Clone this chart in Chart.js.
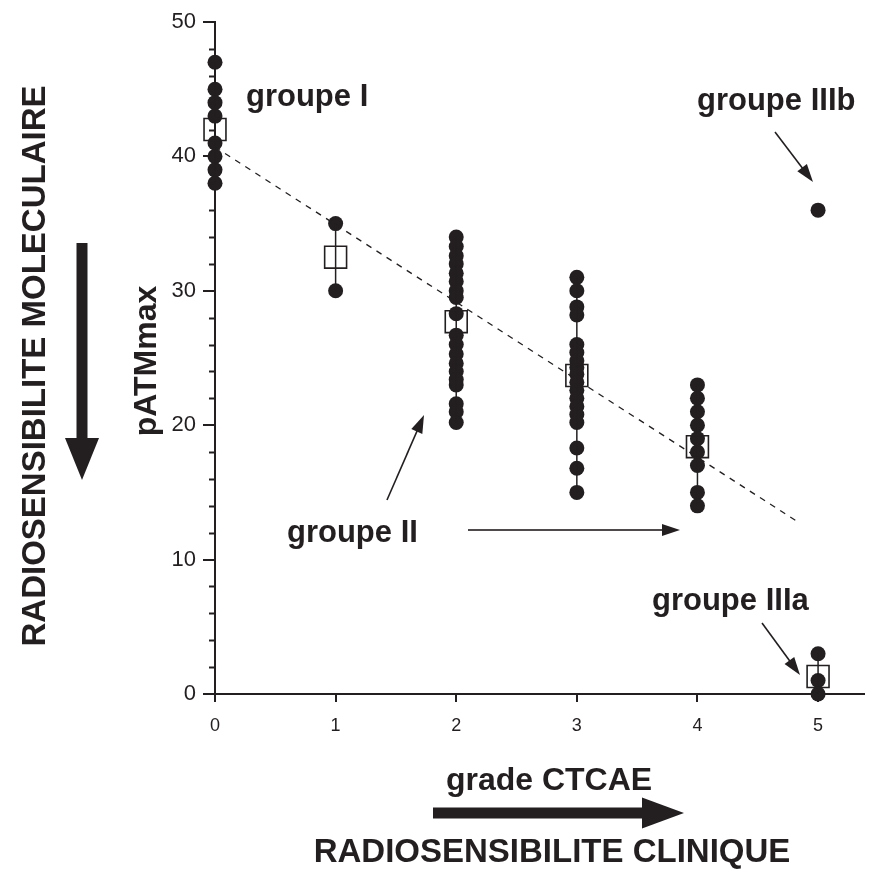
<!DOCTYPE html>
<html>
<head>
<meta charset="utf-8">
<script src="https://cdn.jsdelivr.net/npm/chart.js@4"></script>
<style>
  html, body { margin: 0; padding: 0; background: #fff; }
  #wrap { width: 881px; height: 876px; }
</style>
</head>
<body>
<div id="wrap"><canvas id="chart" width="881" height="876"></canvas></div>
<script>
// values (pATMmax per CTCAE grade)
const grade0 = [47, 45, 44, 43, 41, 40, 39, 38];
const grade1 = [35, 30];
const grade2 = [34, 33.3, 32.6, 32, 31.3, 30.7, 30, 29.5, 28.3, 26.7, 26, 25.3, 24.6, 24, 23.4, 23, 21.6, 21, 20.2];
const grade3 = [31, 30, 28.8, 28.2, 26, 25.4, 24.8, 24.3, 23.8, 23.2, 22.6, 22, 21.4, 20.8, 20.2, 18.3, 16.8, 15];
const grade4 = [23, 22, 21, 20, 19, 18, 17, 15, 14];
const grade5 = [3, 1, 0];
const outlier5 = [36];          // groupe IIIb
const grades = [0, 1, 2, 3, 4, 5];
const means = [42, 32.5, 27.7, 23.7, 18.4, 1.3];
const trendX = [0, 4.85];
const trendY = [40.7, 12.7];
const yTicks = [0, 10, 20, 30, 40, 50];

const groups = [grade0, grade1, grade2, grade3, grade4, grade5];
const ink = '#231f20';

let dots = [];
groups.forEach(function (vals, i) {
    vals.forEach(function (v) { dots.push({x: grades[i], y: v}); });
});
outlier5.forEach(function (v) { dots.push({x: 5, y: v}); });

let rangeSets = groups.map(function (vals, i) {
    return {
        type: 'line',
        data: [{x: grades[i], y: Math.min(...vals)}, {x: grades[i], y: Math.max(...vals)}],
        borderColor: ink, borderWidth: 1.5, pointRadius: 0, showLine: true, order: 3, clip: false
    };
});

// minor ticks on the y axis, every 2 units
const minorTicks = {
    id: 'minorTicks',
    afterDraw(chart) {
        const ctx = chart.ctx, ys = chart.scales.y, x0 = chart.chartArea.left;
        ctx.save();
        ctx.strokeStyle = ink;
        ctx.lineWidth = 2;
        for (let v = 0; v <= 50; v += 2) {
            if (v % 10 === 0) continue;
            const py = Math.round(ys.getPixelForValue(v)) + 0.5;
            ctx.beginPath();
            ctx.moveTo(x0 - 6, py);
            ctx.lineTo(x0, py);
            ctx.stroke();
        }
        ctx.restore();
    }
};

function arrow(ctx, x1, y1, x2, y2, w, headLen, headW) {
    const a = Math.atan2(y2 - y1, x2 - x1);
    const len = Math.hypot(x2 - x1, y2 - y1);
    ctx.save();
    ctx.translate(x1, y1);
    ctx.rotate(a);
    ctx.fillStyle = ink;
    ctx.fillRect(0, -w / 2, len - headLen + 1, w);
    ctx.beginPath();
    ctx.moveTo(len, 0);
    ctx.lineTo(len - headLen, -headW / 2);
    ctx.lineTo(len - headLen, headW / 2);
    ctx.closePath();
    ctx.fill();
    ctx.restore();
}

const annotations = {
    id: 'annotations',
    afterDraw(chart) {
        const ctx = chart.ctx;
        ctx.save();
        ctx.fillStyle = ink;
        ctx.textBaseline = 'alphabetic';
        ctx.textAlign = 'left';
        ctx.font = 'bold 31px "Liberation Sans", Arial, sans-serif';
        ctx.fillText('groupe I', 246, 106);
        ctx.fillText('groupe IIIb', 697, 110);
        ctx.fillText('groupe II', 287, 542);
        ctx.fillText('groupe IIIa', 652, 610);

        arrow(ctx, 775, 132, 813, 182, 1.6, 18, 12);
        arrow(ctx, 762, 623, 800, 675, 1.6, 18, 12);
        arrow(ctx, 387, 500, 424, 415, 1.6, 18, 12);
        arrow(ctx, 468, 530, 680, 530, 1.6, 18, 12);

        ctx.textAlign = 'center';
        ctx.font = 'bold 32px "Liberation Sans", Arial, sans-serif';
        ctx.fillText('grade CTCAE', 549, 790);
        ctx.font = 'bold 33px "Liberation Sans", Arial, sans-serif';
        ctx.fillText('RADIOSENSIBILITE CLINIQUE', 552, 862);
        arrow(ctx, 433, 813, 684, 813, 11, 42, 31);

        ctx.textBaseline = 'middle';
        ctx.save();
        ctx.translate(36, 366);
        ctx.rotate(-Math.PI / 2);
        ctx.fillText('RADIOSENSIBILITE MOLECULAIRE', 0, 0);
        ctx.restore();

        ctx.save();
        ctx.translate(147, 361);
        ctx.rotate(-Math.PI / 2);
        ctx.font = 'bold 32px "Liberation Sans", Arial, sans-serif';
        ctx.fillText('pATMmax', 0, 0);
        ctx.restore();

        arrow(ctx, 82, 243, 82, 480, 11, 42, 34);
        ctx.restore();
    }
};

new Chart(document.getElementById('chart'), {
    type: 'scatter',
    data: {
        datasets: [
            {
                data: grades.map(function (g, i) { return {x: g, y: means[i]}; }),
                pointStyle: 'rect', pointRadius: 15.5, backgroundColor: 'rgba(0,0,0,0)',
                borderColor: ink, borderWidth: 1.6, order: 1, clip: false
            },
            {
                data: trendX.map(function (x, i) { return {x: x, y: trendY[i]}; }),
                type: 'line', showLine: true, pointRadius: 0, borderColor: ink,
                borderWidth: 1.3, borderDash: [6, 6], order: 2
            },
            {
                data: dots, pointStyle: 'circle', pointRadius: 7.5,
                backgroundColor: ink, borderWidth: 0, order: 4, clip: false
            },
            ...rangeSets
        ]
    },
    options: {
        animation: false,
        responsive: false,
        events: [],
        layout: { padding: { top: 22, right: 11, left: 0, bottom: 0 } },
        plugins: { legend: { display: false }, tooltip: { enabled: false } },
        scales: {
            x: {
                type: 'linear', min: 0, max: 5.38,
                afterFit: function (s) { s.height = 182; },
                afterBuildTicks: function (s) {
                    s.ticks = grades.map(function (g) { return {value: g}; });
                },
                grid: { drawOnChartArea: false, tickLength: 8, color: ink, lineWidth: 2 },
                border: { display: true, color: ink, width: 2 },
                ticks: { color: ink, padding: 13, font: { family: '"Liberation Sans", Arial', size: 18 } }
            },
            y: {
                type: 'linear', min: 0, max: 50,
                afterFit: function (s) { s.width = 215; },
                afterBuildTicks: function (s) {
                    s.ticks = yTicks.map(function (v) { return {value: v}; });
                },
                grid: { drawOnChartArea: false, tickLength: 12, color: ink, lineWidth: 2 },
                border: { display: true, color: ink, width: 2 },
                ticks: { color: ink, padding: 7, font: { family: '"Liberation Sans", Arial', size: 22 } }
            }
        }
    },
    plugins: [minorTicks, annotations]
});
</script>
</body>
</html>
